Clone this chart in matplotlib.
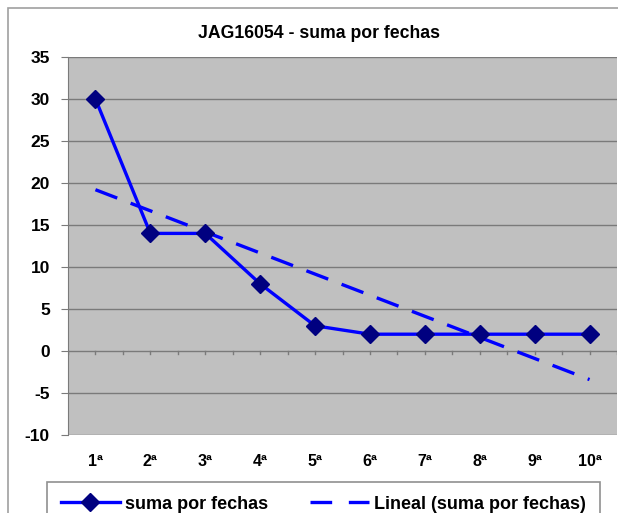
import matplotlib
matplotlib.use("Agg")
import matplotlib.pyplot as plt
from matplotlib.patches import Rectangle
from matplotlib.lines import Line2D
import numpy as np

plt.rcParams['font.family'] = ['Liberation Sans', 'DejaVu Sans']
plt.rcParams['font.weight'] = 'bold'

categories = ['1ª', '2ª', '3ª', '4ª', '5ª', '6ª', '7ª', '8ª', '9ª', '10ª']
suma = [30, 14, 14, 8, 3, 2, 2, 2, 2, 2]
# trend line (Lineal) read at first and last category
trend_ends = [19.2, -3.4]
yticks = [-10, -5, 0, 5, 10, 15, 20, 25, 30, 35]

W, H = 618, 513
fig = plt.figure(figsize=(W / 100, H / 100), dpi=100)

# outer chart frame (right and bottom edges run off the picture)
fig.patches.append(Rectangle((8 / W, -0.1), 1.2, 1.1 - 8 / H,
                             transform=fig.transFigure, fill=False,
                             edgecolor='#a0a0a0', linewidth=1.2))

ax = fig.add_axes([68 / W, (H - 435) / H, (617 - 68) / W, (435 - 57) / H])
ax.set_facecolor('#c0c0c0')
x = np.arange(len(categories))

for v in yticks:
    ax.axhline(v, color='#7a7a7a', linewidth=1.0, zorder=1)

ax.plot([x[0], x[-1]], trend_ends, color='#0000ff', linewidth=2.4,
        dashes=(7.0, 4.3), zorder=2)
ax.plot(x, suma, color='#0000ff', linewidth=2.4, marker='D', markersize=9.5,
        markerfacecolor='#000080', markeredgecolor='#000080', zorder=3)

# small ticks along the zero line
for t in np.arange(-0.5, len(categories), 0.5):
    ax.plot([t, t], [0, -0.35], color='#7a7a7a', linewidth=1.0, zorder=1)

ax.set_xlim(-0.5, len(categories) - 0.5)
ax.set_ylim(-10, 35)
ax.set_yticks(yticks)
ax.set_yticklabels([str(v) for v in yticks], fontsize=12.5, fontweight='bold')
ax.set_xticks([])
for s in ['top', 'right', 'bottom']:
    ax.spines[s].set_visible(False)
ax.spines['left'].set_color('#7a7a7a')
ax.tick_params(axis='y', color='#7a7a7a', length=5, pad=8)

for i, c in enumerate(categories):
    ax.text(i, -13.1, c, ha='center', va='center', fontsize=11.5, fontweight='bold')

fig.text(319 / W, 1 - 33 / H, 'JAG16054 - suma por fechas', ha='center',
         va='center', fontsize=12.7, fontweight='bold')

handles = [
    Line2D([], [], color='#0000ff', linewidth=2.4, marker='D', markersize=9,
           markerfacecolor='#000080', markeredgecolor='#000080'),
    Line2D([], [], color='#0000ff', linewidth=2.4, dashes=(6.5, 5.0)),
]
leg = fig.legend(handles, ['suma por fechas', 'Lineal (suma por fechas)'],
                 loc='upper left', bbox_to_anchor=(47 / W, 1 - 482 / H),
                 ncol=2, fancybox=False, framealpha=1, edgecolor='#909090',
                 handlelength=3.3, handletextpad=0.28, columnspacing=2.3,
                 borderpad=0.75, borderaxespad=0,
                 prop={'weight': 'bold', 'size': 13})
leg.get_frame().set_linewidth(1.2)

fig.savefig('out.png', dpi=100)
